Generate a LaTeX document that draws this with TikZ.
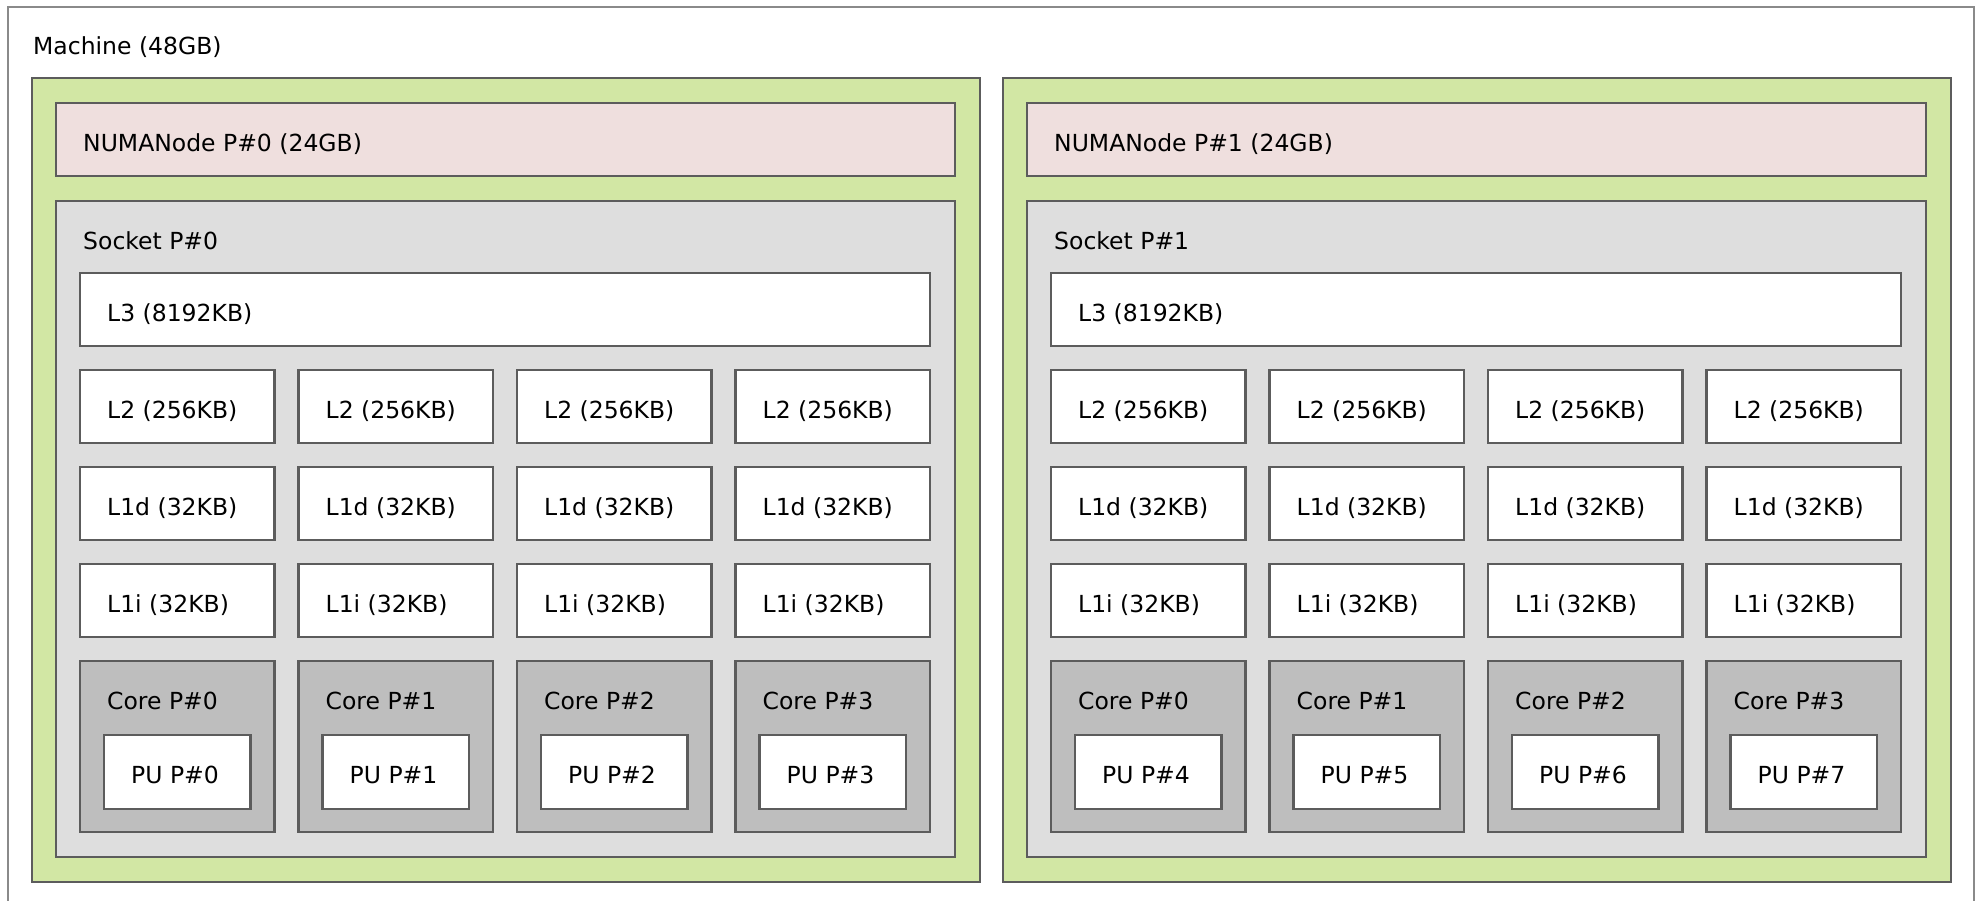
\documentclass[tikz,border=0pt]{standalone}
\usepackage{fontspec}
\setmainfont{DejaVu Sans}

\definecolor{groupgreen}{HTML}{D2E7A4}
\definecolor{numapink}{HTML}{EFDFDE}
\definecolor{socketgray}{HTML}{DEDEDE}
\definecolor{coregray}{HTML}{BEBEBE}
\definecolor{edgegray}{HTML}{5C5C5C}
\definecolor{machinegray}{HTML}{8A8A8A}

\tikzset{
    obj/.style={rectangle, draw=edgegray, line width=2.6pt, inner sep=0pt, outer sep=0pt, anchor=north west},
    objlabel/.style={label={[anchor=base west, inner sep=0pt, xshift=27pt, yshift=-48.5pt]north west:#1}},
    machine/.style={obj, draw=machinegray, line width=1.4pt, fill=white},
    group/.style={obj, fill=groupgreen},
    numa/.style={obj, fill=numapink, minimum width=899pt, minimum height=73pt},
    socket/.style={obj, fill=socketgray, minimum width=899pt, minimum height=656pt},
    cache/.style={obj, fill=white, minimum width=194.5pt, minimum height=73pt},
    core/.style={obj, fill=coregray, minimum width=194.5pt, minimum height=171pt},
    pu/.style={obj, fill=white, minimum width=146.5pt, minimum height=74pt}
}

\begin{document}
\begin{tikzpicture}[x=1pt, y=-1pt, font=\fontsize{23.5}{28}\selectfont]
    % Page background and frame
    \fill[white] (0,0) rectangle (1981,901);
    \clip (0,0) rectangle (1981,901);
    % Draw the machine
    \node[machine, minimum width=1966pt, minimum height=930pt,
        label={[anchor=base west, inner sep=0pt, xshift=25pt, yshift=-48pt]north west:Machine (48GB)}] (machine) at (8,7) {};
    % Draw both halves
    \foreach \s in {0,1} {
        \pgfmathsetmacro{\dx}{971*\s}
        \node[group, minimum width=948pt, minimum height=804pt] (group\s) at (32+\dx,78) {};
        \node[numa, objlabel={NUMANode P\#\s\ (24GB)}] (numa\s) at (56+\dx,103) {};
        \node[socket, objlabel={Socket P\#\s}] (socket\s) at (56+\dx,201) {};
        \node[cache, minimum width=850pt, objlabel={L3 (8192KB)}] (l3-\s) at (80+\dx,273) {};
        % Caches, cores and PUs
        \foreach \c in {0,...,3} {
            \pgfmathsetmacro{\cx}{80+\dx+218.5*\c}
            \pgfmathtruncatemacro{\p}{4*\s+\c}
            \node[cache, objlabel={L2 (256KB)}] (l2-\s-\c) at (\cx,370) {};
            \node[cache, objlabel={L1d (32KB)}] (l1d-\s-\c) at (\cx,467) {};
            \node[cache, objlabel={L1i (32KB)}] (l1i-\s-\c) at (\cx,564) {};
            \node[core, objlabel={Core P\#\c}] (core-\s-\c) at (\cx,661) {};
            \node[pu, objlabel={PU P\#\p}] (pu-\s-\c) at (\cx+24,735) {};
        }
    }
\end{tikzpicture}
\end{document}
